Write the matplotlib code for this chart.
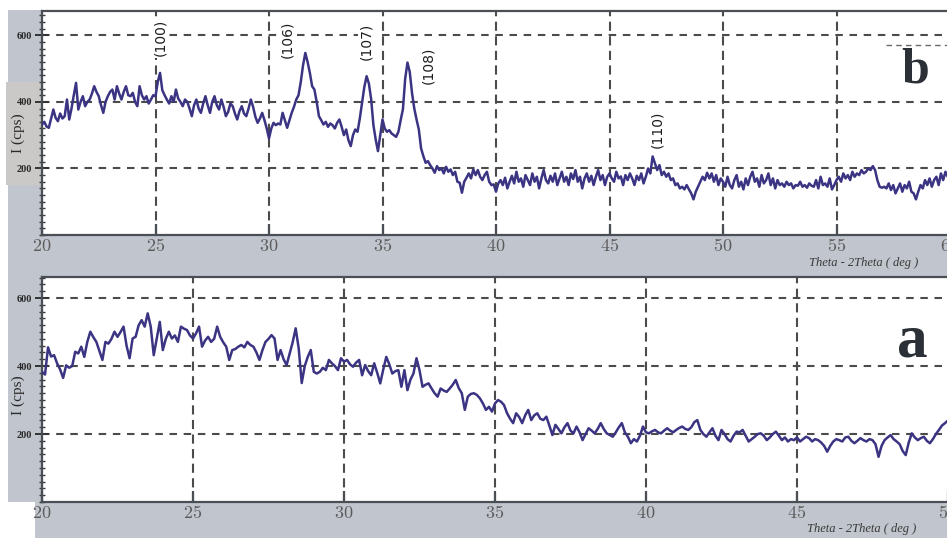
import numpy as np
import matplotlib
matplotlib.use("Agg")
import matplotlib.pyplot as plt
from matplotlib.patches import Rectangle
from matplotlib.ticker import MultipleLocator, FixedLocator, FuncFormatter

plt.rcParams["mathtext.fontset"] = "cm"

# ---------------- data ----------------
# scan grid (2-theta, degrees) and measured intensities (cps)
two_theta_b = np.round(np.arange(20.0, 60.0001, 0.1), 1)
counts_b = [
    332, 340, 326, 322, 350, 377, 352, 342, 365, 350,
    357, 407, 347, 380, 420, 457, 377, 400, 417, 387,
    400, 407, 425, 447, 430, 417, 390, 367, 400, 417,
    430, 437, 407, 447, 425, 407, 430, 447, 420, 417,
    427, 400, 387, 447, 420, 407, 417, 395, 407, 420,
    417, 460, 487, 435, 420, 407, 395, 417, 400, 437,
    410, 400, 387, 407, 400, 380, 357, 390, 407, 380,
    367, 395, 417, 390, 367, 400, 417, 390, 377, 407,
    385, 357, 370, 395, 387, 365, 347, 372, 387, 365,
    357, 380, 407, 385, 355, 337, 350, 367, 345, 320,
    290, 320, 337, 330, 335, 332, 367, 345, 322, 345,
    367, 385, 407, 420, 460, 510, 547, 520, 487, 447,
    437, 400, 357, 345, 332, 340, 325, 335, 330, 320,
    337, 347, 325, 300, 317, 285, 267, 300, 317, 310,
    350, 397, 445, 477, 455, 408, 330, 287, 252, 300,
    347, 320, 310, 315, 305, 300, 295, 310, 345, 378,
    470, 518, 490, 427, 380, 347, 317, 260, 237, 217,
    222, 210, 200, 187, 207, 195, 200, 185, 205, 190,
    197, 180, 190, 160, 157, 127, 160, 172, 185, 170,
    197, 180, 195, 175, 165, 180, 190, 160, 150, 152,
    130, 155, 165, 150, 172, 140, 160, 178, 155, 190,
    160, 170, 145, 180, 165, 150, 185, 160, 175, 140,
    170, 195, 165, 155, 178, 160, 185, 150, 170, 190,
    160, 175, 150, 185, 168, 195, 160, 175, 140, 170,
    185, 160, 178, 150, 175, 195, 165, 180, 150, 175,
    185, 170, 160, 190, 170, 176, 150, 180, 165, 185,
    170, 150, 178, 165, 185, 155, 175, 200, 185, 236,
    215, 195, 210, 180, 190, 175, 185, 165, 170, 150,
    155, 140, 145, 137, 150, 137, 125, 107, 130, 145,
    160, 175, 165, 187, 170, 185, 160, 180, 150, 170,
    160, 145, 175, 150, 140, 165, 180, 145, 160, 137,
    170, 150, 175, 190, 160, 170, 145, 180, 155, 165,
    185, 150, 170, 140, 165, 150, 155, 145, 160, 150,
    155, 140, 150, 148, 160, 145, 150, 142, 155, 148,
    145, 165, 140, 175, 150, 155, 145, 170, 137, 150,
    165, 175, 160, 185, 170, 180, 165, 190, 175, 185,
    180, 195, 185, 190, 200, 195, 207, 195, 165, 145,
    142, 145, 140, 155, 135, 150, 125, 140, 155, 130,
    150, 140, 160, 130, 125, 107, 130, 150, 140, 165,
    150, 170, 145, 165, 175, 150, 185, 165, 190, 175,
    180,
]

two_theta_a = np.round(np.arange(20.0, 50.0001, 0.1), 1)
counts_a = [
    383, 375, 455, 428, 432, 408, 390, 365, 402, 395,
    400, 442, 437, 457, 427, 471, 501, 485, 471, 445,
    418, 471, 466, 480, 501, 486, 500, 516, 460, 423,
    481, 486, 520, 535, 516, 555, 516, 432, 481, 530,
    447, 480, 501, 481, 490, 471, 516, 510, 506, 490,
    481, 496, 516, 457, 475, 486, 471, 480, 516, 486,
    470, 457, 418, 447, 450, 457, 462, 455, 471, 462,
    457, 440, 418, 447, 471, 480, 491, 481, 418, 447,
    420, 403, 437, 470, 511, 452, 350, 400, 427, 447,
    383, 378, 383, 395, 388, 418, 408, 400, 388, 423,
    413, 418, 405, 398, 410, 418, 373, 403, 385, 373,
    408, 380, 349, 390, 427, 405, 378, 385, 388, 339,
    388, 329, 360, 378, 423, 388, 339, 345, 349, 334,
    320, 310, 334, 328, 324, 334, 345, 359, 335, 320,
    271, 310, 318, 320, 315, 305, 290, 271, 280, 266,
    290, 300, 295, 285, 261, 245, 232, 261, 250, 232,
    255, 271, 241, 255, 261, 245, 241, 251, 225, 197,
    227, 215, 202, 220, 232, 210, 202, 222, 205, 182,
    200, 217, 210, 202, 215, 232, 215, 202, 197, 192,
    205, 220, 232, 205, 192, 173, 185, 178, 195, 222,
    205, 202, 208, 212, 205, 202, 210, 217, 210, 205,
    212, 218, 222, 215, 212, 220, 235, 241, 212, 200,
    192, 205, 217, 195, 182, 212, 200, 185, 178, 195,
    207, 205, 212, 195, 178, 185, 192, 200, 202, 195,
    182, 190, 200, 207, 195, 182, 190, 178, 185, 182,
    190, 178, 185, 192, 188, 178, 185, 182, 175, 165,
    148, 165, 178, 185, 182, 178, 190, 192, 180, 173,
    180, 188, 182, 178, 185, 182, 170, 133, 165, 182,
    190, 197, 185, 178, 170, 150, 138, 175, 202, 190,
    182, 188, 192, 180, 173, 185, 200, 212, 225, 232,
    240,
]

# Miller-index annotations on panel b
hkl_labels = ["(100)", "(106)", "(107)", "(108)", "(110)"]
hkl_x = [25.2, 30.8, 34.3, 37.0, 47.1]
hkl_y = [594, 588, 582, 510, 317]

x_ticks_b = [20, 25, 30, 35, 40, 45, 50, 55, 60]
x_ticks_a = [20, 25, 30, 35, 40, 45, 50]
y_ticks = [200, 400, 600]

# ---------------- styling ----------------
W, H = 947, 538
LINE = "#3b3483"
GRID = "#4b4b4b"
PANEL_GREY = "#c1c5cd"
LABEL_GREY = "#cac9c7"
SPINE = "#4a4e55"


def fig_box(x0, y0, x1, y1):
    """pixel box (top-left origin) -> figure fraction [l, b, w, h]"""
    return [x0 / W, 1 - y1 / H, (x1 - x0) / W, (y1 - y0) / H]


fig = plt.figure(figsize=(W / 100, H / 100), dpi=100)
fig.patch.set_facecolor("white")


def grey(x0, y0, x1, y1, color=PANEL_GREY):
    l, b, w, h = fig_box(x0, y0, x1, y1)
    fig.patches.append(Rectangle((l, b), w, h, transform=fig.transFigure,
                                 facecolor=color, edgecolor="none", zorder=-5))


# instrument-window frames
grey(8, 10, 42, 236)
grey(6, 82, 42, 185, LABEL_GREY)
grey(8, 235, 947, 277)
grey(8, 276, 42, 502)
grey(35, 502, 947, 538)


def style_axes(ax, xlim, ylim, xticks):
    ax.set_xlim(*xlim)
    ax.set_ylim(*ylim)
    for side in ("top", "left", "bottom"):
        ax.spines[side].set_color(SPINE)
        ax.spines[side].set_linewidth(1.6)
    ax.spines["right"].set_visible(False)

    ax.xaxis.set_major_locator(FixedLocator(xticks))
    ax.xaxis.set_major_formatter(FuncFormatter(lambda v, p: f"${v:.0f}$"))
    ax.yaxis.set_major_locator(FixedLocator(y_ticks))
    ax.yaxis.set_minor_locator(MultipleLocator(20))
    ax.tick_params(axis="x", which="major", direction="in", length=8, width=1.6,
                   colors=SPINE, labelsize=13, labelcolor="#5c5c5c", pad=1.5)
    ax.tick_params(axis="y", which="major", direction="inout", length=10, width=1.4,
                   colors="#333333", labelsize=7.5, labelcolor="#2a2a2a", pad=2)
    ax.tick_params(axis="y", which="minor", direction="inout", length=4, width=1.0,
                   colors="#3a3a3a")
    for lab in ax.get_yticklabels():
        lab.set_fontfamily("Liberation Serif")
        lab.set_fontweight("bold")

    ax.grid(axis="y", which="major", linestyle=(0, (3.6, 3.2)), linewidth=1.5,
            color=GRID)
    ax.grid(axis="x", which="major", linestyle=(0, (4.4, 2.6)), linewidth=1.5,
            color=GRID)
    ax.set_axisbelow(True)


def axis_caption(ax, y_px_below):
    h_px = ax.get_position().height * H
    ax.text(0.905, -y_px_below / h_px, "Theta - 2Theta ( deg )",
            transform=ax.transAxes, ha="center", va="center", fontsize=9,
            style="italic", family="Liberation Serif", color="#3a3a3a")


# ---------------- panel b ----------------
ax_b = fig.add_axes(fig_box(42, 11, 950, 235))
style_axes(ax_b, (20, 60), (0, 673), x_ticks_b)
axis_caption(ax_b, 28)
ax_b.plot(two_theta_b, counts_b, color=LINE, lw=1.8, zorder=3)

for lab, xp, yp in zip(hkl_labels, hkl_x, hkl_y):
    ax_b.text(xp, yp, lab, rotation=90, ha="center", va="center", fontsize=10,
              color="#1e1e1e", zorder=4,
              bbox=dict(boxstyle="square,pad=0.15", facecolor="white",
                        edgecolor="none"))

ax_b.plot([57.2, 60], [570, 570], color="#6a6a6a", lw=1.0,
          linestyle=(0, (4, 3)), zorder=2)
ax_b.text(0.962, 0.735, "b", transform=ax_b.transAxes, ha="center",
          va="center", fontsize=36, fontweight="bold",
          family="Liberation Serif", color="#2b2f36", zorder=5)

# ---------------- panel a ----------------
ax_a = fig.add_axes(fig_box(42, 277, 948, 502))
style_axes(ax_a, (20, 50), (0, 662), x_ticks_a)
axis_caption(ax_a, 27)
ax_a.plot(two_theta_a, counts_a, color=LINE, lw=1.8, zorder=3)
ax_a.text(0.961, 0.715, "a", transform=ax_a.transAxes, ha="center",
          va="center", fontsize=44, fontweight="bold",
          family="Liberation Serif", color="#2b2f36", zorder=5)

# y-axis captions
for yc in (133, 395):
    fig.text(18 / W, 1 - yc / H, "I (cps)", rotation=90, ha="center",
             va="center", fontsize=11, family="Liberation Serif",
             color="#2a2a2a")

fig.savefig("out.png", dpi=100)
